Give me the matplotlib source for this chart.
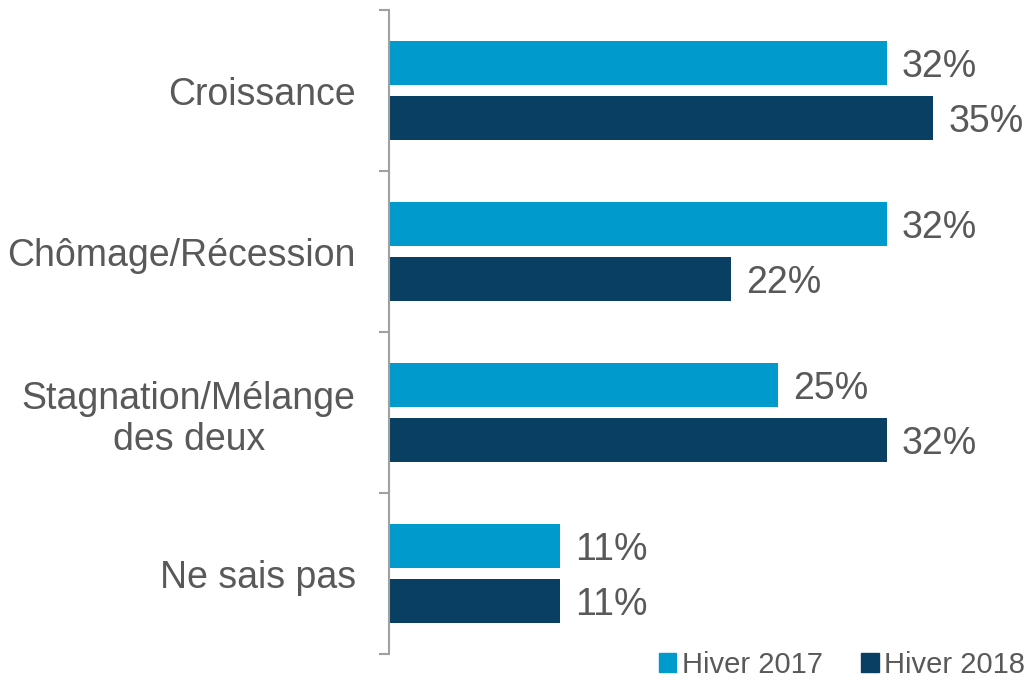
import matplotlib.pyplot as plt
from matplotlib.patches import Patch

plt.rcParams['font.family'] = ['Liberation Sans', 'DejaVu Sans']

categories = ['Croissance', 'Chômage/Récession', 'Stagnation/Mélange\ndes deux', 'Ne sais pas']
hiver_2017 = [32, 32, 25, 11]
hiver_2018 = [35, 22, 32, 11]
series_names = ['Hiver 2017', 'Hiver 2018']

c17 = '#009ACD'
c18 = '#083F63'
txt = '#595959'

fig = plt.figure(figsize=(10.33, 6.78), dpi=100)
ax = fig.add_axes([389 / 1033, 24 / 678, 1 - 389 / 1033, 644 / 678])

ypos = list(range(len(categories)))
h = 0.27
ax.barh([y - 0.17 for y in ypos], hiver_2017, height=h, color=c17)
ax.barh([y + 0.17 for y in ypos], hiver_2018, height=h, color=c18)

for y, v in zip(ypos, hiver_2017):
    ax.annotate(f'{v}%', (v, y - 0.17), xytext=(11, -3), textcoords='offset points',
                va='center', ha='left', fontsize=27, color=txt)
for y, v in zip(ypos, hiver_2018):
    ax.annotate(f'{v}%', (v, y + 0.17), xytext=(11, -3), textcoords='offset points',
                va='center', ha='left', fontsize=27, color=txt)

ax.set_xlim(0, 644 / 15.55)
ax.set_ylim(len(categories) - 0.5, -0.5)
ax.set_xticks([])

# boundary ticks (major) and category labels (minor)
ax.set_yticks([i - 0.5 for i in range(len(categories) + 1)])
ax.set_yticklabels([])
ax.tick_params(axis='y', which='major', length=7.5, width=1.5, color='#A0A0A0')
ax.set_yticks(ypos, minor=True)
ax.set_yticklabels(categories, minor=True, fontsize=27, color=txt)
ax.tick_params(axis='y', which='minor', length=0, pad=24)
for lab in ax.get_yticklabels(minor=True):
    lab.set_multialignment('center')

for s in ['top', 'right', 'bottom']:
    ax.spines[s].set_visible(False)
ax.spines['left'].set_color('#A0A0A0')
ax.spines['left'].set_linewidth(1.5)

handles = [Patch(color=c17), Patch(color=c18)]
fig.legend(handles, series_names, loc='lower right', bbox_to_anchor=(1.018, -0.04),
           ncol=2, frameon=False, fontsize=21, labelcolor=txt,
           handlelength=0.6, handleheight=0.6, handletextpad=0.2, columnspacing=1.3)

fig.savefig('out.png', dpi=100)
